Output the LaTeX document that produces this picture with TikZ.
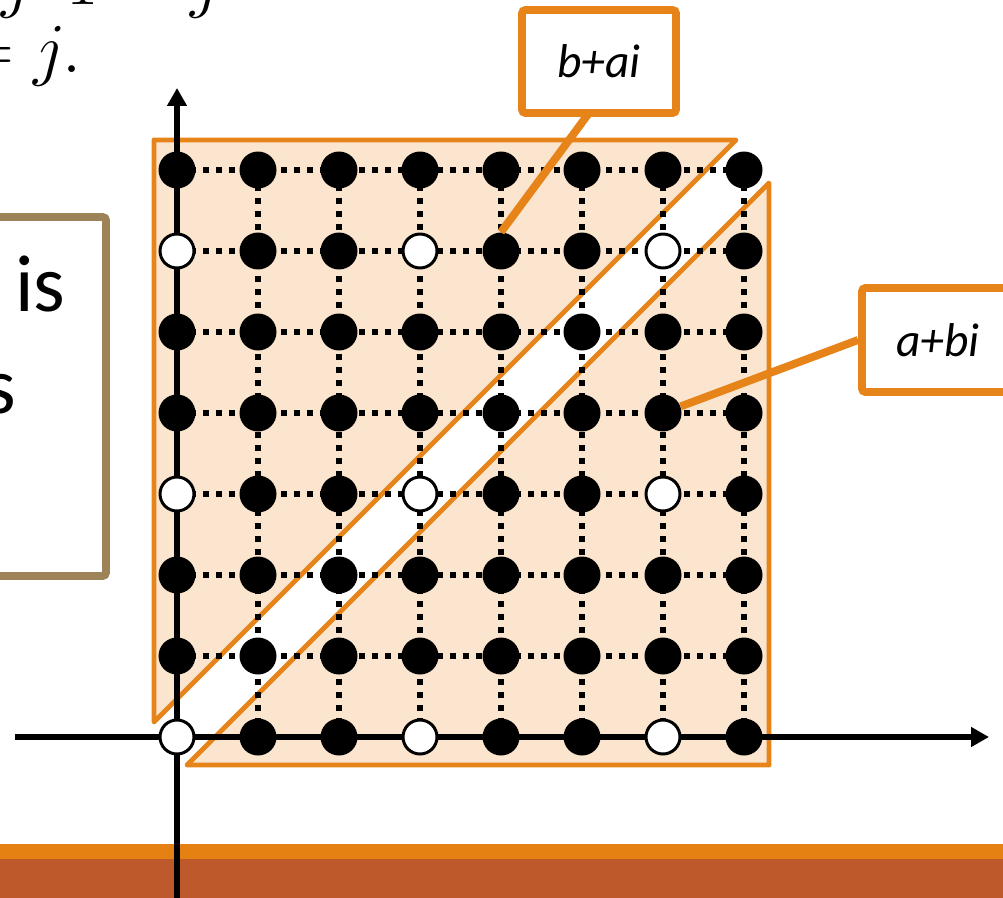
\RequirePackage{fix-cm}
\documentclass[tikz,border=0pt]{standalone}
\usepackage{fontspec}
\newfontfamily\calibri{Carlito}
\usetikzlibrary{arrows.meta}
\definecolor{ora}{RGB}{230,132,26}
\definecolor{peach}{RGB}{251,229,206}
\definecolor{rust}{RGB}{190,89,44}
\definecolor{barora}{RGB}{229,129,19}
\definecolor{khaki}{RGB}{158,131,88}
\begin{document}
\begin{tikzpicture}[x=0.02cm,y=-0.02cm,
  dot/.style={circle,fill=black,inner sep=0pt,minimum size=0.74cm},
  hole/.style={circle,fill=white,draw=black,line width=1.7pt,inner sep=0pt,minimum size=0.68cm},
  gridline/.style={line width=3.6pt,dash pattern=on 3.6pt off 3.8pt},
  axis/.style={line width=3.4pt,-{Triangle[length=0.36cm,width=0.38cm]}},
  region/.style={fill=peach,draw=ora,line width=2.8pt,line join=round},
  callout/.style={draw=ora,line width=4.5pt,fill=white,rounded corners=2pt,
    font=\calibri\itshape\fontsize{27}{30}\selectfont,inner sep=0pt},
  calloutline/.style={draw=ora,line width=4.5pt},
  bigtext/.style={font=\calibri\fontsize{46}{50}\selectfont,inner sep=0pt},
  mathtext/.style={font=\fontsize{40}{46}\selectfont,inner sep=0pt}]
\useasboundingbox (0,0) rectangle (1003,898);
\clip (0,0) rectangle (1003,898);

% top math text (partly cut)
\node[mathtext,anchor=base west] (t1) at (1,5) {$j$};
\node[mathtext,anchor=base west] (t2) at (66,5) {$1$};
\node[mathtext,anchor=base west] (t3) at (190,5) {$j$};
\node[mathtext,anchor=base east] (eqj) at (82,73) {$=j.$};

% left box with text
\draw[khaki,line width=4.5pt,rounded corners=2pt] (-60,217) rectangle (106,576);
\node[bigtext,anchor=base east] (wis) at (66,312) {is};
\node[bigtext,anchor=base east] (ws) at (16,413) {s};

% bottom bars
\fill[barora] (0,844) rectangle (1003,859);
\fill[rust] (0,859) rectangle (1003,898);

% regions
\draw[region] (154,140) -- (736,140) -- (154,722) -- cycle;
\draw[region] (187,765) -- (769,765) -- (769,183) -- cycle;

% grid coordinates
\foreach \i in {0,...,7}
  \foreach \j in {0,...,7}
    \coordinate (p-\i-\j) at ({177+81*\i},{737-81*\j});

% dotted grid lines
\foreach \j in {1,...,7}
  \draw[gridline] (p-0-\j) -- (p-7-\j);
\foreach \i in {1,...,7}
  \draw[gridline] (p-\i-0) -- (p-\i-7);

% axes
\coordinate (xs) at (15,737);
\coordinate (xe) at (989,737);
\coordinate (ys) at (177,905);
\coordinate (ye) at (177,88);
\draw[axis] (xs) -- (xe);
\draw[axis] (ys) -- (ye);

% dots
\foreach \i in {0,...,7}
  \foreach \j in {0,...,7} {
    \pgfmathparse{(mod(\i,3)==0 && mod(\j,3)==0) ? 1 : 0}
    \ifnum\pgfmathresult=1
      \node[hole] (d-\i-\j) at (p-\i-\j) {};
    \else
      \node[dot] (d-\i-\j) at (p-\i-\j) {};
    \fi
  }

% callouts
\node[callout,minimum width=3.08cm,minimum height=2.06cm] (lb) at (599,61.5) {b+ai};
\coordinate (lbt) at (589,113);
\draw[calloutline] (lbt) -- (d-4-6.north);
\node[callout,minimum width=3.04cm,minimum height=2.08cm] (la) at (938,340) {a+bi};
\draw[calloutline] (la.west) -- (d-6-4);
\end{tikzpicture}
\end{document}
